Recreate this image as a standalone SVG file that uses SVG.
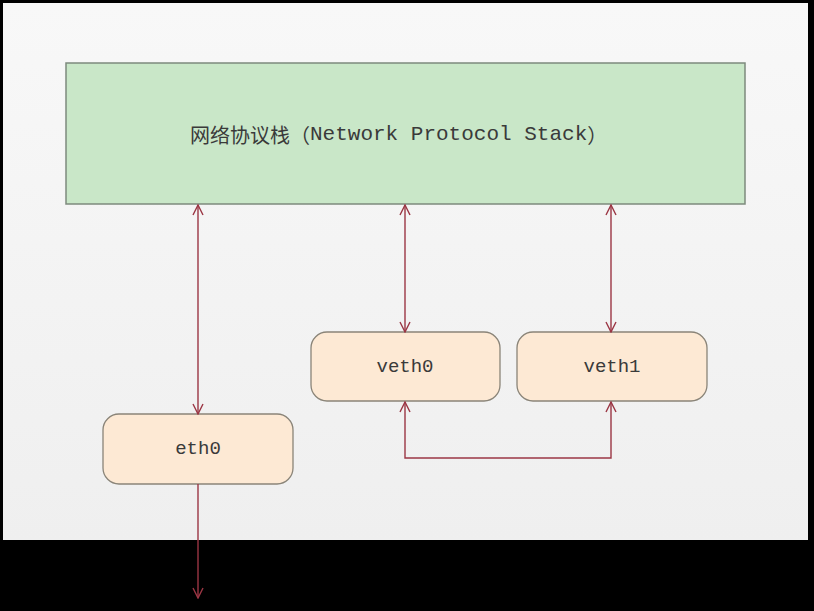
<svg xmlns="http://www.w3.org/2000/svg" width="814" height="611" viewBox="0 0 814 611">
<style>
.node{fill:#fde9d4;stroke:#8a8478;stroke-width:1.3}
.lbl{font-family:"Liberation Mono","Noto Sans CJK SC",monospace;font-size:19px;fill:#3a3a3a;text-anchor:middle;dominant-baseline:central}
.conn{fill:none;stroke:#9b3644;stroke-width:1.4}
</style>
<defs>
<linearGradient id="bg" x1="0" y1="0" x2="0" y2="1">
<stop offset="0" stop-color="#f8f8f8"/>
<stop offset="1" stop-color="#efefef"/>
</linearGradient>
<marker id="ah" viewBox="0 0 12 12" refX="11" refY="6" markerWidth="12" markerHeight="12" markerUnits="userSpaceOnUse" orient="auto-start-reverse">
<path d="M1,1 L11,6 L1,11" fill="none" stroke="#9b3644" stroke-width="1.4"/>
</marker>
</defs>
<rect x="0" y="0" width="814" height="611" fill="#000"/>
<rect x="3" y="3" width="805" height="537" fill="url(#bg)"/>
<g id="stack">
<rect x="66" y="63" width="679" height="141" fill="#c9e7c8" stroke="#7d8a7d" stroke-width="1.5"/>
<text x="190" y="134" font-size="20" fill="#3a3a3a" dominant-baseline="central" font-family="'Noto Sans CJK SC',sans-serif">网络协议栈（<tspan font-family="'Liberation Mono',monospace" font-size="21">Network Protocol Stack</tspan>）</text>
</g>
<g id="veth0">
<rect class="node" x="311" y="332" width="189" height="69" rx="16"/>
<text class="lbl" x="405" y="367">veth0</text>
</g>
<g id="veth1">
<rect class="node" x="517" y="332" width="190" height="69" rx="16"/>
<text class="lbl" x="612" y="367">veth1</text>
</g>
<g id="eth0">
<rect class="node" x="103" y="414" width="190" height="70" rx="16"/>
<text class="lbl" x="198" y="449">eth0</text>
</g>
<g id="connectors">
<line class="conn" x1="198" y1="205" x2="198" y2="414" marker-start="url(#ah)" marker-end="url(#ah)"/>
<line class="conn" x1="405" y1="205" x2="405" y2="332" marker-start="url(#ah)" marker-end="url(#ah)"/>
<line class="conn" x1="611" y1="205" x2="611" y2="332" marker-start="url(#ah)" marker-end="url(#ah)"/>
<path class="conn" d="M405,402 L405,458 L611,458 L611,402" marker-start="url(#ah)" marker-end="url(#ah)"/>
<line class="conn" x1="198" y1="484" x2="198" y2="598" marker-end="url(#ah)"/>
</g>
</svg>
